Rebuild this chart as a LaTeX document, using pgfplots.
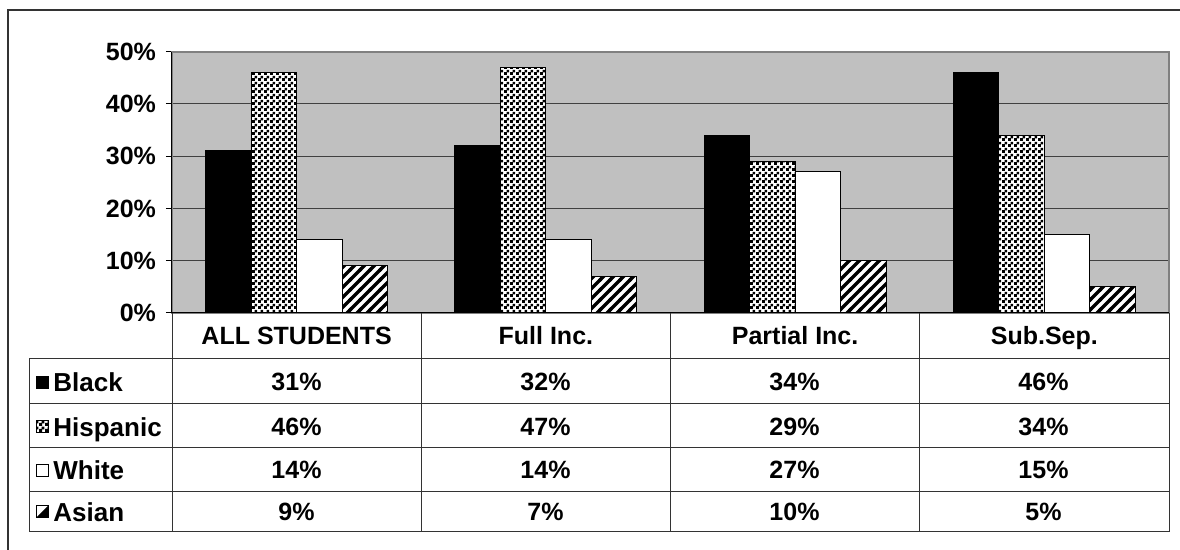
\documentclass[border=0pt]{standalone}
\usepackage{pgfplots}
\pgfplotsset{compat=1.18}
\usepackage{fontspec}
\setmainfont{Liberation Sans}
\usetikzlibrary{patterns}

\definecolor{graybg}{HTML}{C0C0C0}
\definecolor{framegray}{HTML}{808080}
\definecolor{linegray}{HTML}{333333}
\newcommand\cf{\fontsize{12.5pt}{14pt}\selectfont\bfseries}
\newcommand\rf{\fontsize{13pt}{15pt}\selectfont\bfseries}

\pgfdeclarepatternformonly{finechecker}{\pgfpointorigin}{\pgfqpoint{2.8pt}{2.8pt}}{\pgfqpoint{2.8pt}{2.8pt}}{%
 \pgfpathrectangle{\pgfpointorigin}{\pgfqpoint{1.6pt}{1.6pt}}%
 \pgfpathrectangle{\pgfqpoint{1.4pt}{1.4pt}}{\pgfqpoint{1.4pt}{1.4pt}}%
 \pgfusepath{fill}}

\pgfdeclarepatternformonly{thickne}{\pgfqpoint{-1pt}{-1pt}}{\pgfqpoint{6pt}{6pt}}{\pgfqpoint{5pt}{5pt}}{%
 \pgfsetlinewidth{1.6pt}%
 \pgfpathmoveto{\pgfqpoint{-1pt}{-1pt}}%
 \pgfpathlineto{\pgfqpoint{6pt}{6pt}}%
 \pgfusepath{stroke}}

\pgfplotstableread{
x black hispanic white asian
0 31 46 14 9
1 32 47 14 7
2 34 29 27 10
3 46 34 15 5
}\datatable

\begin{document}
\begin{tikzpicture}
\begin{axis}[
 at={(86pt,-156.5pt)}, anchor=south west,
 scale only axis, width=498.5pt, height=130.65pt,
 xmin=-0.5, xmax=3.5, ymin=0, ymax=50,
 ybar=0pt, bar width=22.75pt,
 xtick={0,1,2,3}, xticklabels={ALL STUDENTS,Full Inc.,Partial Inc.,Sub.Sep.},
 ytick={0,10,20,30,40,50},
 yticklabel={\pgfmathprintnumber{\tick}\%},
 /pgf/number format/assume math mode=true,
 tick label style={font=\cf},
 tick align=outside, major tick length=3pt, tick pos=left,
 xtick style={draw=none},
 ytick style={black, line width=0.5pt},
 ymajorgrids, grid style={draw=black!75, line width=0.5pt},
 axis background/.style={fill=graybg},
 axis line style={draw=framegray, line width=0.9pt},
 clip=false,
 xticklabel style={anchor=base, yshift=-13pt},
 yticklabel style={xshift=-1.5pt},
]
\addplot[draw=black, line width=0.5pt, fill=black] table[x=x,y=black] {\datatable};
\addplot[draw=black, line width=0.5pt, fill=white, postaction={pattern=finechecker}] table[x=x,y=hispanic] {\datatable};
\addplot[draw=black, line width=0.5pt, fill=white] table[x=x,y=white] {\datatable};
\addplot[draw=black, line width=0.5pt, fill=white, postaction={pattern=thickne}] table[x=x,y=asian] {\datatable};
\draw[black, line width=0.5pt] (rel axis cs:0,1) -- (rel axis cs:0,0) -- (rel axis cs:1,0);
\end{axis}
\begin{scope}[x=0.5pt,y=-0.5pt]
 \draw[line width=0.75pt, linegray] (8,600) -- (8,10) -- (1200,10);
 \foreach \y in {359,404,448,492,532} \draw[linegray, line width=0.5pt] (29,\y) -- (1169,\y);
 \foreach \x in {172,421,670,919,1169} \draw[linegray, line width=0.5pt] (\x,313) -- (\x,532);
 \draw[linegray, line width=0.5pt] (29,359) -- (29,532);
 % legend keys and row names
 \draw[line width=0.5pt, fill=black] (36,376.5) rectangle (48,388.5);
 \fill[white] (36,421) rectangle (48,433);
 \fill[pattern=finechecker] (36,421) rectangle (48,433);
 \draw[line width=0.5pt] (36,421) rectangle (48,433);
 \draw[line width=0.5pt, fill=white] (36,464.5) rectangle (48,476.5);
 \draw[line width=0.5pt, fill=white] (36,506) rectangle (48,518);
 \fill (36,518) -- (48,506) -- (48,518) -- cycle;
 \node[font=\rf, anchor=base west, inner sep=0pt] at (53,392) {Black};
 \node[font=\rf, anchor=base west, inner sep=0pt] at (53,436.5) {Hispanic};
 \node[font=\rf, anchor=base west, inner sep=0pt] at (53,480) {White};
 \node[font=\rf, anchor=base west, inner sep=0pt] at (53,521.5) {Asian};
 % values
 \foreach \v [count=\i from 0] in {31,32,34,46} \node[font=\cf, anchor=base, inner sep=0pt] at (296.5+249*\i,391) {\v\%};
 \foreach \v [count=\i from 0] in {46,47,29,34} \node[font=\cf, anchor=base, inner sep=0pt] at (296.5+249*\i,435.5) {\v\%};
 \foreach \v [count=\i from 0] in {14,14,27,15} \node[font=\cf, anchor=base, inner sep=0pt] at (296.5+249*\i,479) {\v\%};
 \foreach \v [count=\i from 0] in {9,7,10,5} \node[font=\cf, anchor=base, inner sep=0pt] at (296.5+249*\i,521) {\v\%};
 \pgfresetboundingbox
 \useasboundingbox (0,0) rectangle (1180,550);
\end{scope}
\end{tikzpicture}
\end{document}
